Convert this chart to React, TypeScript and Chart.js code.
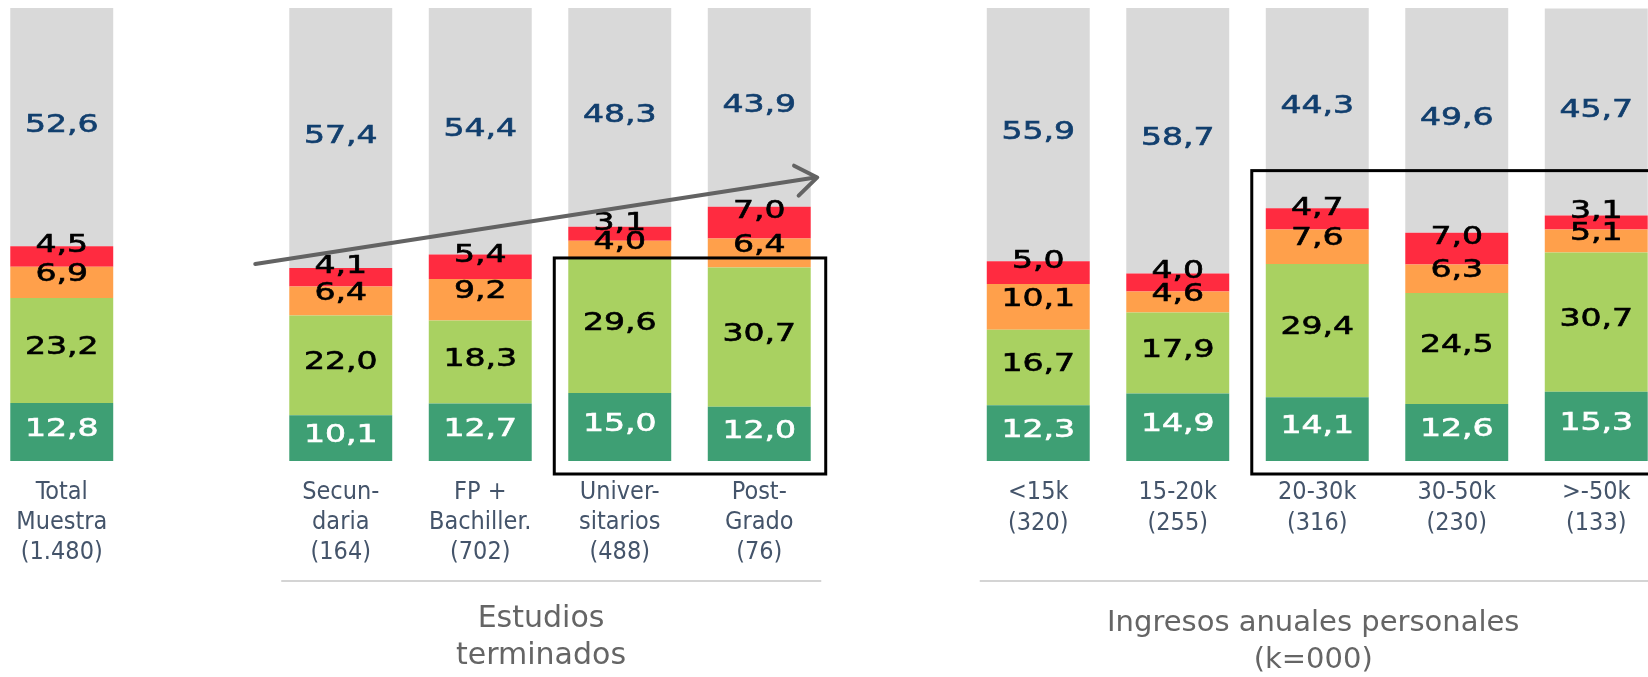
import React, { useEffect, useRef } from 'react';
import { Chart, registerables } from 'chart.js';

Chart.register(...registerables);

// ---- data ----
const categories: string[] = [
  'Total Muestra', '', 'Secundaria', 'FP + Bachiller.', 'Universitarios', 'Post-Grado', '',
  '<15k', '15-20k', '20-30k', '30-50k', '>-50k',
];
const tickLabels: string[][] = [
  ['Total', 'Muestra', '(1.480)'],
  [],
  ['Secun-', 'daria', '(164)'],
  ['FP +', 'Bachiller.', '(702)'],
  ['Univer-', 'sitarios', '(488)'],
  ['Post-', 'Grado', '(76)'],
  [],
  ['<15k', '(320)'],
  ['15-20k', '(255)'],
  ['20-30k', '(316)'],
  ['30-50k', '(230)'],
  ['>-50k', '(133)'],
];
const darkGreen = [12.8, null, 10.1, 12.7, 15.0, 12.0, null, 12.3, 14.9, 14.1, 12.6, 15.3];
const lightGreen = [23.2, null, 22.0, 18.3, 29.6, 30.7, null, 16.7, 17.9, 29.4, 24.5, 30.7];
const orange = [6.9, null, 6.4, 9.2, 4.0, 6.4, null, 10.1, 4.6, 7.6, 6.3, 5.1];
const red = [4.5, null, 4.1, 5.4, 3.1, 7.0, null, 5.0, 4.0, 4.7, 7.0, 3.1];
const gray = [52.6, null, 57.4, 54.4, 48.3, 43.9, null, 55.9, 58.7, 44.3, 49.6, 45.7];
const groupTitles: string[][] = [['Estudios', 'terminados'], ['Ingresos anuales personales', '(k=000)']];

// ---- styles ----
const fillColors = ['#3E9F74', '#A9D161', '#FFA04B', '#FF2B40', '#D9D9D9'];
const labelColors = ['#FFFFFF', '#000000', '#000000', '#000000', '#123F6E'];
const labelOffsets = [-5, -5, -10, -13, -4];
const LABEL_SIZE = 24;

const fmt = (v: number) => v.toFixed(1).replace('.', ',');

const segLabels = {
  id: 'segLabels',
  afterDatasetsDraw(chart: any) {
    const ctx = chart.ctx;
    chart.data.datasets.forEach((ds: any, di: number) => {
      const meta = chart.getDatasetMeta(di);
      meta.data.forEach((el: any, i: number) => {
        const v = ds.data[i];
        if (v == null) return;
        const cy = (el.y + el.base) / 2 + labelOffsets[di];
        ctx.save();
        ctx.font = `${LABEL_SIZE}px "DejaVu Sans"`;
        ctx.fillStyle = labelColors[di];
        ctx.strokeStyle = labelColors[di];
        ctx.lineWidth = 0.6;
        ctx.textAlign = 'center';
        ctx.textBaseline = 'alphabetic';
        ctx.translate(el.x, cy + 0.365 * LABEL_SIZE);
        ctx.scale(1.38, 1);
        ctx.fillText(fmt(v), 0, 0);
        ctx.strokeText(fmt(v), 0, 0);
        ctx.restore();
      });
    });
  },
};

const overlays = {
  id: 'overlays',
  afterDraw(chart: any) {
    const ctx = chart.ctx;
    const xs = chart.scales.x;
    const ys = chart.scales.y;
    const area = chart.chartArea;
    const xp = (i: number) => xs.getPixelForValue(i);
    const yp = (v: number) => ys.getPixelForValue(v);
    const meta = chart.getDatasetMeta(0);
    const half = (meta.data[0] as any).width / 2;

    ctx.save();
    // highlight rectangles
    ctx.strokeStyle = '#000000';
    ctx.lineWidth = 3;
    const r1l = xp(4) - half - 14;
    const r1r = xp(5) + half + 15;
    const r1t = yp(15.0 + 29.6) - 1;
    const rb = area.bottom + 13;
    ctx.strokeRect(r1l, r1t, r1r - r1l, rb - r1t);
    const r2l = xp(9) - half - 14;
    const r2t = yp(64.1);
    ctx.strokeRect(r2l, r2t, chart.width + 20 - r2l, rb - r2t);

    // arrow
    const ax0 = xp(2) - 85.5;
    const ay0 = yp(43.5);
    const ax1 = xp(5) + 58;
    const ay1 = yp(62.6);
    ctx.strokeStyle = '#636363';
    ctx.lineWidth = 4;
    ctx.lineCap = 'round';
    ctx.lineJoin = 'round';
    ctx.beginPath();
    ctx.moveTo(ax0, ay0);
    ctx.lineTo(ax1 - 2, ay1);
    ctx.stroke();
    const ang = Math.atan2(ay1 - ay0, ax1 - ax0);
    const len = 26;
    const spread = 0.62;
    ctx.beginPath();
    ctx.moveTo(ax1 - len * Math.cos(ang - spread), ay1 - len * Math.sin(ang - spread));
    ctx.lineTo(ax1, ay1);
    ctx.lineTo(ax1 - len * Math.cos(ang + spread), ay1 - len * Math.sin(ang + spread));
    ctx.stroke();

    // separators
    ctx.strokeStyle = '#D4D4D4';
    ctx.lineWidth = 2;
    ctx.lineCap = 'butt';
    const sy = 581;
    ctx.beginPath();
    ctx.moveTo(xp(2) - 59.5, sy);
    ctx.lineTo(xp(5) + 62, sy);
    ctx.moveTo(xp(7) - 58.5, sy);
    ctx.lineTo(chart.width, sy);
    ctx.stroke();

    // group titles
    ctx.fillStyle = '#656565';
    ctx.textAlign = 'center';
    ctx.textBaseline = 'alphabetic';
    ctx.font = '30px "DejaVu Sans"';
    const c1 = (xp(2) + xp(5)) / 2 - 9;
    ctx.fillText(groupTitles[0][0], c1, 627);
    ctx.fillText(groupTitles[0][1], c1, 664);
    ctx.font = '29px "DejaVu Sans"';
    const c2 = (xp(7) + xp(11)) / 2 - 4;
    ctx.fillText(groupTitles[1][0], c2, 631);
    ctx.fillText(groupTitles[1][1], c2, 668);
    ctx.restore();
  },
};

export default function App() {
  const canvasRef = useRef<HTMLCanvasElement | null>(null);

  useEffect(() => {
    const canvas = canvasRef.current;
    if (!canvas) return;
    const names = ['Nivel 1', 'Nivel 2', 'Nivel 3', 'Nivel 4', 'Nivel 5'];
    const series = [darkGreen, lightGreen, orange, red, gray];
    const chart = new Chart(canvas, {
      type: 'bar',
      data: {
        labels: tickLabels as any,
        datasets: series.map((d, i) => ({
          label: names[i],
          data: d as any,
          backgroundColor: fillColors[i],
          borderWidth: 0,
          barPercentage: 0.738,
          categoryPercentage: 1,
        })),
      },
      options: {
        animation: false,
        responsive: true,
        maintainAspectRatio: false,
        layout: { padding: { top: 8, bottom: 94, left: 0, right: 0 } },
        plugins: {
          legend: { display: false },
          tooltip: { enabled: false },
          title: { display: false },
        },
        scales: {
          x: {
            stacked: true,
            offset: true,
            grid: { display: false, drawTicks: false },
            border: { display: false },
            ticks: {
              autoSkip: false,
              maxRotation: 0,
              minRotation: 0,
              padding: 16,
              color: '#44546A',
              font: (c: any) =>
                c.index >= 7
                  ? { family: '"DejaVu Sans Condensed", "DejaVu Sans"', size: 25, lineHeight: '31px' }
                  : { family: '"DejaVu Sans Condensed", "DejaVu Sans"', size: 25, lineHeight: '30px' },
            },
          },
          y: {
            stacked: true,
            display: false,
            min: 0,
            max: 100,
          },
        },
      },
      plugins: [segLabels, overlays],
    });
    return () => chart.destroy();
  }, []);

  return (
    <div style={{ position: 'fixed', left: 0, top: 0, width: 1648, height: 677, overflow: 'hidden', background: '#fff' }}>
      <div style={{ position: 'absolute', left: -8, top: 0, width: 1674, height: 677 }}>
        <canvas ref={canvasRef} aria-label={categories.join(', ')} />
      </div>
    </div>
  );
}
